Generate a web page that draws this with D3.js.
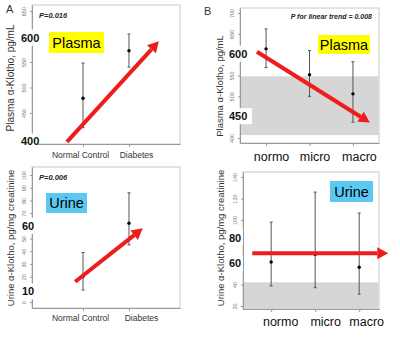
<!DOCTYPE html>
<html>
<head>
<meta charset="utf-8">
<script src="https://cdn.jsdelivr.net/npm/d3@7"></script>
<style>
  html, body { margin: 0; padding: 0; background: #fff; }
  svg { display: block; font-family: "Liberation Sans", Arial, sans-serif; }
</style>
</head>
<body>
<svg id="chart" width="400" height="338"></svg>
<script>
// ---------- DATA ----------
// Panel A top: plasma, Normal Control vs Diabetes
const catsDM = ["Normal Control", "Diabetes"];
const plasmaDMMean = [479, 572];
const plasmaDMLow = [421, 540];
const plasmaDMHigh = [548, 605];
const plasmaDMTicks = [400, 450, 500, 550, 600, 650];
const plasmaDMBold = ["600", "400"];
const plasmaDMArrow = [[-0.35, 393], [1.65, 591]];

// Panel B top: plasma by albuminuria
const catsAlb = ["normo", "micro", "macro"];
const plasmaAlbMean = [614, 552, 506];
const plasmaAlbLow = [569, 500, 438];
const plasmaAlbHigh = [662, 610, 583];
const plasmaAlbTicks = [400, 450, 500, 550, 600, 650, 700];
const plasmaAlbBold = ["600", "450"];
const plasmaAlbBand = [407, 548];
const plasmaAlbArrow = [[-0.21, 607], [2.39, 437]];

// Panel A bottom: urine, Normal Control vs Diabetes
const urineDMMean = [20, 62];
const urineDMLow = [9.5, 45];
const urineDMHigh = [39, 86];
const urineDMTicks = [0, 10, 20, 30, 40, 50, 60, 70, 80, 90, 100];
const urineDMBold = ["60", "10"];
const urineDMArrow = [[-0.17, 16], [1.3, 58]];

// Panel B bottom: urine by albuminuria
const urineAlbMean = [61, 68, 56];
const urineAlbLow = [38.6, 37, 31];
const urineAlbHigh = [98, 126, 106.5];
const urineAlbTicks = [20, 40, 60, 80, 100, 120, 140];
const urineAlbBold = ["80", "60"];
const urineAlbBand = [17.2, 42];
const urineAlbArrow = [[-0.43, 69], [2.66, 69]];

// ---------- DRAWING ----------
const svg = d3.select("#chart");

function drawPanel(p) {
  const g = svg.append("g");
  const x = d3.scaleLinear().domain(p.xDomain).range([p.left, p.right]);
  const y = d3.scaleLinear().domain(p.yDomain).range([p.bottom, p.top]);

  g.append("rect")
    .attr("x", p.left).attr("y", p.top)
    .attr("width", p.right - p.left).attr("height", p.bottom - p.top)
    .attr("fill", "#fff").attr("stroke", "#c8c8c8").attr("stroke-width", 1);

  if (p.band) {
    g.append("rect")
      .attr("x", p.left + 0.5).attr("width", p.right - p.left - 1)
      .attr("y", y(p.band[1])).attr("height", y(p.band[0]) - y(p.band[1]))
      .attr("fill", "#d6d6d6");
  }

  const ya = g.append("g")
    .attr("transform", `translate(${p.left},0)`)
    .call(d3.axisLeft(y).tickValues(p.ticks).tickSize(2).tickSizeOuter(0));
  ya.select(".domain").attr("stroke", "#999");
  ya.selectAll(".tick line").attr("stroke", "#999");
  ya.selectAll(".tick text")
    .attr("transform", "rotate(-90)")
    .attr("x", 0).attr("y", -6).attr("dy", "0em")
    .attr("text-anchor", "middle")
    .attr("font-size", 5.5).attr("fill", "#777");

  const xa = g.append("g")
    .attr("transform", `translate(0,${p.bottom})`)
    .call(d3.axisBottom(x).tickValues(d3.range(p.cats.length))
      .tickFormat(i => p.cats[i]).tickSize(3).tickSizeOuter(0));
  xa.select(".domain").attr("stroke", "#999");
  xa.selectAll(".tick line").attr("stroke", "#999");
  xa.selectAll(".tick text")
    .attr("font-size", p.catFont).attr("fill", p.catColor)
    .attr("dx", (d, i) => p.catDx[i]).attr("y", p.catY);

  const eb = g.append("g");
  p.mean.forEach((m, i) => {
    const cx = x(i);
    eb.append("line").attr("x1", cx).attr("x2", cx)
      .attr("y1", y(p.low[i])).attr("y2", y(p.high[i]))
      .attr("stroke", "#555").attr("stroke-width", 1);
    [p.low[i], p.high[i]].forEach(v => {
      eb.append("line").attr("x1", cx - 1.5).attr("x2", cx + 1.5)
        .attr("y1", y(v)).attr("y2", y(v))
        .attr("stroke", "#555").attr("stroke-width", 1);
    });
    eb.append("circle").attr("cx", cx).attr("cy", y(m)).attr("r", 1.7).attr("fill", "#000");
  });

  p.bold.forEach((lab, i) => {
    const v = +lab;
    const cy = y(v) + p.boldDy[i];
    g.append("rect")
      .attr("x", p.boldX - 3).attr("y", cy - 8)
      .attr("width", p.boldW).attr("height", 16)
      .attr("fill", "#fff");
    g.append("text")
      .attr("x", p.boldX).attr("y", cy + 4)
      .attr("font-size", 11).attr("font-weight", "bold").attr("fill", "#111")
      .text(lab);
  });

  const [a0, a1] = p.arrow;
  const x0 = x(a0[0]), y0 = y(a0[1]), x1 = x(a1[0]), y1 = y(a1[1]);
  const ang = Math.atan2(y1 - y0, x1 - x0);
  const hl = 11, hw = 6;
  const bx = x1 - hl * Math.cos(ang), by = y1 - hl * Math.sin(ang);
  g.append("line").attr("x1", x0).attr("y1", y0).attr("x2", bx).attr("y2", by)
    .attr("stroke", "#ee1c1c").attr("stroke-width", 4);
  const px = -Math.sin(ang), py = Math.cos(ang);
  g.append("polygon")
    .attr("points", [[x1, y1], [bx + hw * px, by + hw * py], [bx - hw * px, by - hw * py]].map(d => d.join(",")).join(" "))
    .attr("fill", "#ee1c1c");

  g.append("text")
    .attr("transform", `translate(${p.titleX},${p.titleY}) rotate(-90)`)
    .attr("text-anchor", "middle")
    .attr("font-size", p.titleFont).attr("fill", "#333")
    .text(p.title);

  g.append("rect").attr("x", p.tag.x).attr("y", p.tag.y)
    .attr("width", p.tag.w).attr("height", p.tag.h).attr("fill", p.tag.color);
  g.append("text").attr("x", p.tag.x + p.tag.w / 2).attr("y", p.tag.y + p.tag.h / 2 + 5)
    .attr("text-anchor", "middle").attr("font-size", 14.5).attr("fill", "#000")
    .text(p.tag.text);

  if (p.pv) {
    g.append("text").attr("x", p.pv.x).attr("y", p.pv.y)
      .attr("text-anchor", p.pv.anchor)
      .attr("font-size", p.pv.size).attr("font-weight", "bold").attr("font-style", "italic")
      .attr("fill", "#222").text(p.pv.text);
  }
}

drawPanel({
  left: 32, right: 180, top: 5, bottom: 144,
  xDomain: [-1.11, 2.11], yDomain: [389, 662],
  cats: catsDM, catFont: 8.5, catColor: "#333", catDx: [-3, 7], catY: 8,
  mean: plasmaDMMean, low: plasmaDMLow, high: plasmaDMHigh,
  ticks: plasmaDMTicks, bold: plasmaDMBold, boldDy: [1, 3], boldX: 21, boldW: 20,
  arrow: plasmaDMArrow,
  title: "Plasma α-Klotho, pg/mL", titleX: 14, titleY: 78, titleFont: 10,
  tag: { x: 49, y: 32, w: 55, h: 21, color: "#ffff00", text: "Plasma" },
  pv: { x: 39, y: 18, anchor: "start", size: 7.5, text: "P=0.016" }
});

drawPanel({
  left: 240, right: 379, top: 8, bottom: 143,
  xDomain: [-0.6, 2.6], yDomain: [388, 712],
  band: plasmaAlbBand,
  cats: catsAlb, catFont: 12.5, catColor: "#111", catDx: [5, 5, 6], catY: 9,
  mean: plasmaAlbMean, low: plasmaAlbLow, high: plasmaAlbHigh,
  ticks: plasmaAlbTicks, bold: plasmaAlbBold, boldDy: [-1, -1], boldX: 229, boldW: 26,
  arrow: plasmaAlbArrow,
  title: "Plasma α-Klotho, pg/mL", titleX: 223, titleY: 86, titleFont: 9.5,
  tag: { x: 318, y: 35, w: 52, h: 19, color: "#ffff00", text: "Plasma" },
  pv: { x: 372, y: 19, anchor: "end", size: 7, text: "P for linear trend = 0.008" }
});

drawPanel({
  left: 32, right: 180, top: 167, bottom: 308,
  xDomain: [-1.11, 2.11], yDomain: [-4.7, 106.3],
  cats: catsDM, catFont: 8.5, catColor: "#333", catDx: [-3, 12], catY: 7,
  mean: urineDMMean, low: urineDMLow, high: urineDMHigh,
  ticks: urineDMTicks, bold: urineDMBold, boldDy: [0, 2], boldX: 22, boldW: 17,
  arrow: urineDMArrow,
  title: "Urine α-Klotho, pg/mg creatinine", titleX: 14, titleY: 238, titleFont: 9.5,
  tag: { x: 46, y: 193, w: 41, h: 20, color: "#5bc8f2", text: "Urine" },
  pv: { x: 39, y: 180, anchor: "start", size: 7.5, text: "P=0.006" }
});

drawPanel({
  left: 243, right: 379, top: 172, bottom: 309,
  xDomain: [-0.64, 2.45], yDomain: [17.2, 144.7],
  band: urineAlbBand,
  cats: catsAlb, catFont: 12.5, catColor: "#111", catDx: [9, 10, 7], catY: 8,
  mean: urineAlbMean, low: urineAlbLow, high: urineAlbHigh,
  ticks: urineAlbTicks, bold: urineAlbBold, boldDy: [-4, 0], boldX: 229, boldW: 17,
  arrow: urineAlbArrow,
  title: "Urine α-Klotho, pg/mg creatinine", titleX: 224, titleY: 238, titleFont: 9.5,
  tag: { x: 330, y: 181, w: 43, h: 21, color: "#5bc8f2", text: "Urine" },
  pv: null
});

svg.append("text").attr("x", 6).attr("y", 13).attr("font-size", 11).attr("fill", "#333").text("A");
svg.append("text").attr("x", 204).attr("y", 15).attr("font-size", 11).attr("fill", "#333").text("B");
</script>
</body>
</html>
